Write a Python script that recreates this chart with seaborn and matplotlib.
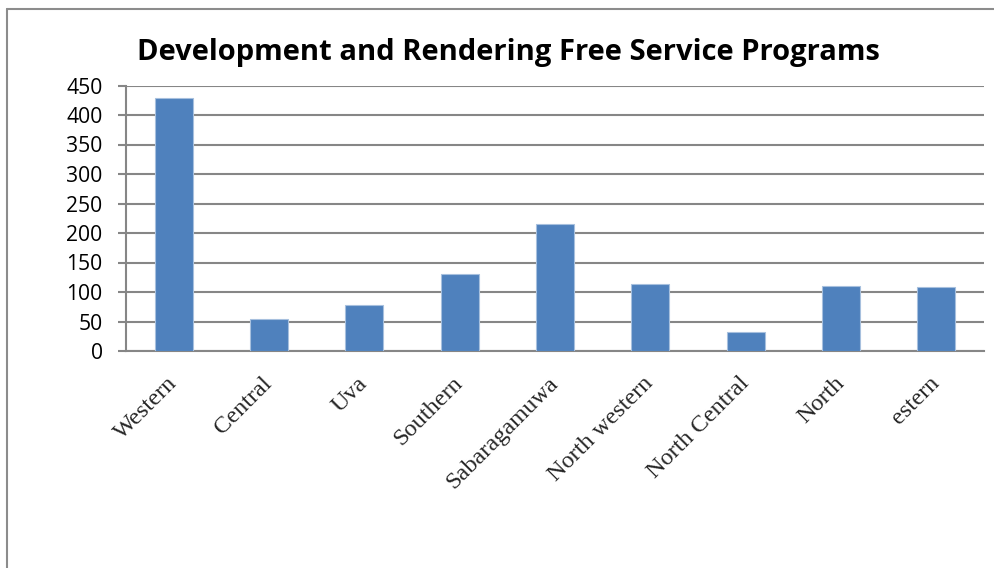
import matplotlib
matplotlib.use("Agg")
import matplotlib.pyplot as plt
from matplotlib.lines import Line2D
import seaborn as sns
import pandas as pd

# Number of development and rendering free service programs by province
provinces = ["Western", "Central", "Uva", "Southern", "Sabaragamuwa",
             "North western", "North Central", "North", "estern"]
programs = [428, 55, 78, 131, 216, 114, 33, 111, 108]
y_ticks = [0, 50, 100, 150, 200, 250, 300, 350, 400, 450]

title = "Development and Rendering Free Service Programs"

df = pd.DataFrame({"Province": provinces, "Programs": programs})

sns.set_theme(style="white")
plt.rcParams["font.family"] = ["Open Sans", "DejaVu Sans"]

W, H = 995, 568
fig = plt.figure(figsize=(W / 100, H / 100), dpi=100)
fig.patch.set_facecolor("white")

left, right, bottom, top = 126, 984, 351, 85.5
ax = fig.add_axes([left / W, 1 - bottom / H, (right - left) / W, (bottom - top) / H])

sns.barplot(data=df, x="Province", y="Programs", color="#4F81BD",
            saturation=1, width=0.4, edgecolor="#A7C0DE", linewidth=0.8,
            ax=ax, zorder=3)

ax.set_ylim(0, 450)
ax.set_xlim(-0.5, len(provinces) - 0.5)
ax.set_yticks(y_ticks)
ax.set_yticklabels([str(v) for v in y_ticks], fontsize=15.2, color="black")
ax.yaxis.grid(True, color="#868686", linewidth=1.5, zorder=0)
ax.xaxis.grid(False)
ax.set_xlabel("")
ax.set_ylabel("")

for side in ["top", "right"]:
    ax.spines[side].set_visible(False)
for side in ["left", "bottom"]:
    ax.spines[side].set_color("#868686")
    ax.spines[side].set_linewidth(1.5)

ax.tick_params(axis="y", which="major", left=True, length=5.8, width=1.5,
               color="#868686", pad=11)
ax.tick_params(axis="x", which="major", bottom=False, pad=15)

ax.set_xticks(range(len(provinces)))
ax.set_xticklabels(provinces, rotation=45, ha="right", va="center",
                   rotation_mode="anchor", fontsize=17.5,
                   family=["Liberation Serif", "DejaVu Serif"])

fig.text(508 / W, 1 - 52.5 / H, title, ha="center", va="center",
         fontsize=21, fontweight="bold", color="black")

# Outer chart frame (top and left edges)
fig.add_artist(Line2D([7 / W, 1.0], [1 - 8.5 / H, 1 - 8.5 / H],
                      transform=fig.transFigure, color="#8C8C8C", linewidth=1.5))
fig.add_artist(Line2D([7.5 / W, 7.5 / W], [0.0, 1 - 8.5 / H],
                      transform=fig.transFigure, color="#8C8C8C", linewidth=1.5))

fig.savefig("out.png", dpi=100, facecolor="white")
